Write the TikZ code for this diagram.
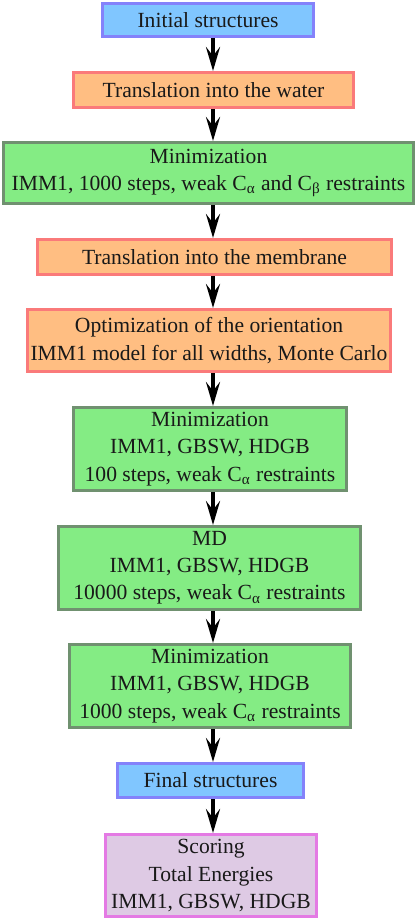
\documentclass[tikz,border=0pt]{standalone}
\usepackage{fontspec}
\setmainfont{Liberation Serif}
\usepackage{tikz}
\usetikzlibrary{arrows.meta, positioning}
\definecolor{cielo}{RGB}{128, 198, 255}
\definecolor{lila}{RGB}{132, 130, 250}
\definecolor{naranja}{RGB}{255, 190, 130}
\definecolor{rosa}{RGB}{250, 122, 122}
\definecolor{verde}{RGB}{132, 236, 132}
\definecolor{gris}{RGB}{112, 145, 112}
\definecolor{malva}{RGB}{222, 202, 228}
\definecolor{fucsia}{RGB}{228, 122, 228}
\tikzset{
    box/.style={rectangle, line width=1.5pt, align=center, inner sep=0pt, text=black!90,
                font=\fontsize{10.8}{13.6}\selectfont},
    ends/.style={box, fill=cielo, draw=lila},
    move/.style={box, fill=naranja, draw=rosa},
    run/.style={box, fill=verde, draw=gris},
    score/.style={box, fill=malva, draw=fucsia},
    flow/.style={-{Stealth[length=12pt, width=7pt, inset=4.5pt]}, line width=1.9pt, black},
}
\newcommand{\ca}{C\textsubscript{α}}
\newcommand{\cb}{C\textsubscript{β}}

\begin{document}
\begin{tikzpicture}[x=0.5pt, y=-0.5pt]
        \useasboundingbox (0,0) rectangle (417,924);

        \node [ends, minimum width=105.5pt, minimum height=16.5pt] (init) at (208,20) {Initial structures};
        \node [move, minimum width=140pt, minimum height=17.5pt] (water) at (213.5,90) {Translation into the water};
        \node [run, minimum width=205pt, minimum height=30.5pt] (min1) at (208.5,173)
            {Minimization\\IMM1, 1000 steps, weak \ca{} and \cb{} restraints};
        \node [move, minimum width=177pt, minimum height=17.5pt] (memb) at (214.5,257) {Translation into the membrane};
        \node [move, minimum width=181.5pt, minimum height=31pt] (orient) at (209,340.5)
            {Optimization of the orientation\\IMM1 model for all widths, Monte Carlo};
        \node [run, minimum width=136.5pt, minimum height=41.5pt] (min2) at (210,449)
            {Minimization\\IMM1, GBSW, HDGB\\100 steps, weak \ca{} restraints};
        \node [run, minimum width=151pt, minimum height=41.5pt] (md) at (209.5,568)
            {MD\\IMM1, GBSW, HDGB\\10000 steps, weak \ca{} restraints};
        \node [run, minimum width=140.5pt, minimum height=41.5pt] (min3) at (210,686)
            {Minimization\\IMM1, GBSW, HDGB\\1000 steps, weak \ca{} restraints};
        \node [ends, minimum width=93pt, minimum height=17pt] (final) at (210.5,780.5) {Final structures};
        \node [score, minimum width=105.5pt, minimum height=41pt] (scoring) at (211,875.5)
            {Scoring\\Total Energies\\IMM1, GBSW, HDGB};

        % all arrows on one vertical line
        \coordinate (axis) at (213,0);
        \draw [flow] (init.south -| axis) -- (water.north -| axis);
        \draw [flow] (water.south -| axis) -- (min1.north -| axis);
        \draw [flow] (min1.south -| axis) -- (memb.north -| axis);
        \draw [flow] (memb.south -| axis) -- (orient.north -| axis);
        \draw [flow] (orient.south -| axis) -- (min2.north -| axis);
        \draw [flow] (min2.south -| axis) -- (md.north -| axis);
        \draw [flow] (md.south -| axis) -- (min3.north -| axis);
        \draw [flow] (min3.south -| axis) -- (final.north -| axis);
        \draw [flow] (final.south -| axis) -- (scoring.north -| axis);
    \end{tikzpicture}
\end{document}
